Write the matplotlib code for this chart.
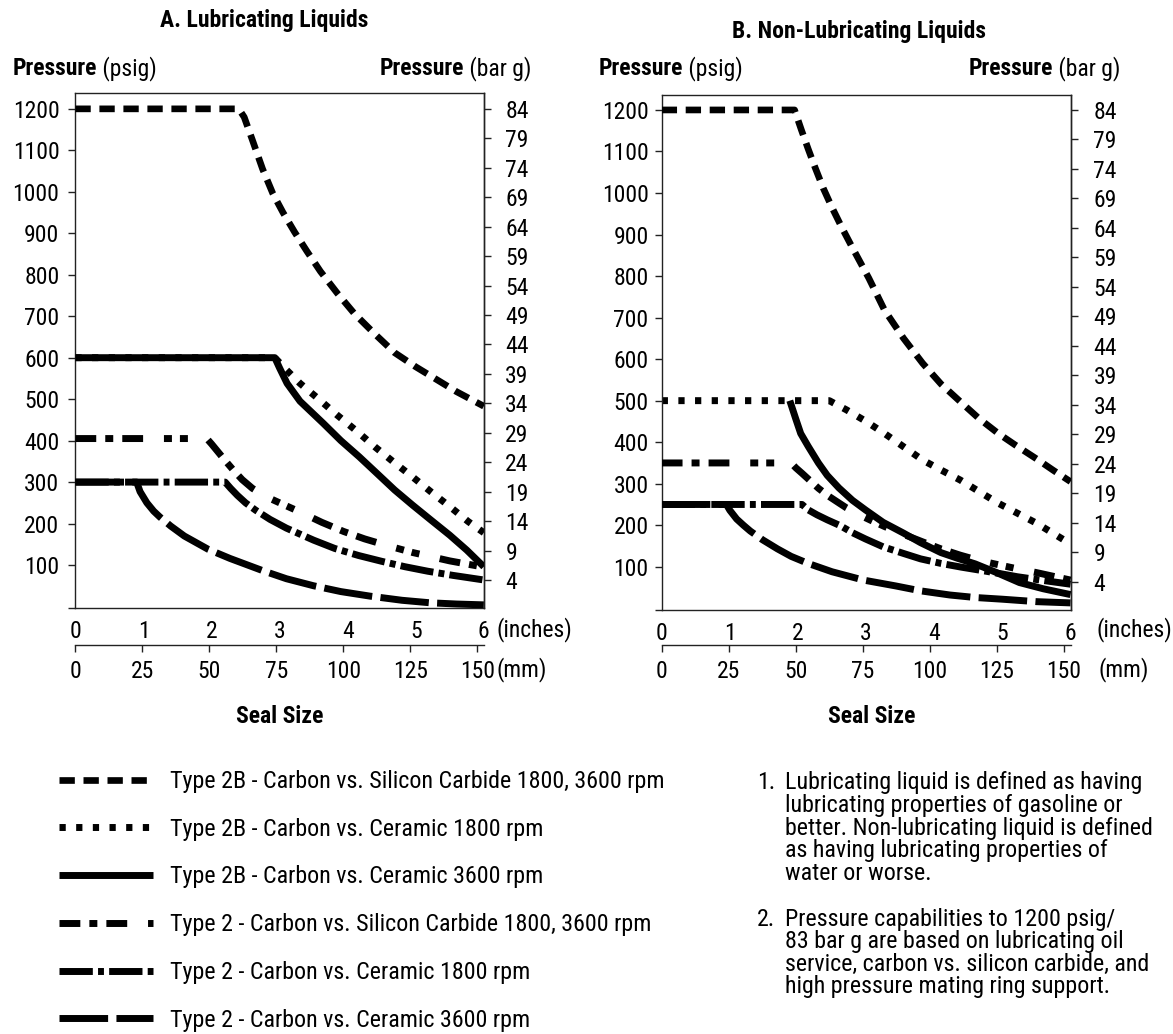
import matplotlib
matplotlib.use("Agg")
import matplotlib.pyplot as plt
from matplotlib import font_manager as fm

# ---------------- data ----------------
inch_ticks = [0, 1, 2, 3, 4, 5, 6]
mm_ticks = [0, 25, 50, 75, 100, 125, 150]
psig_ticks = [100, 200, 300, 400, 500, 600, 700, 800, 900, 1000, 1100, 1200]
bar_ticks = [84, 79, 74, 69, 64, 59, 54, 49, 44, 39, 34, 29, 24, 19, 14, 9, 4]

series_labels = [
    "Type 2B - Carbon vs. Silicon Carbide 1800, 3600 rpm",
    "Type 2B - Carbon vs. Ceramic 1800 rpm",
    "Type 2B - Carbon vs. Ceramic 3600 rpm",
    "Type 2 - Carbon vs. Silicon Carbide 1800, 3600 rpm",
    "Type 2 - Carbon vs. Ceramic 1800 rpm",
    "Type 2 - Carbon vs. Ceramic 3600 rpm",
]

# Panel A - lubricating liquids (x in inches, y in psig)
a_2b_sic_x = [0, 2.4, 2.48, 2.6, 2.75, 2.9, 3.05, 3.22, 3.4, 3.6, 3.85, 4.1, 4.4, 4.69, 5.0, 5.3, 5.6, 6.0]
a_2b_sic_y = [1200, 1200, 1180, 1125, 1055, 996, 950, 903, 857, 808, 755, 706, 657, 612, 578, 548, 518, 483]
a_2b_cer18_x = [0, 2.93, 3.08, 3.3, 3.59, 3.85, 4.14, 4.4, 4.67, 4.95, 5.22, 5.5, 5.77, 6.0]
a_2b_cer18_y = [600, 600, 574, 538, 498, 461, 422, 385, 349, 313, 277, 241, 205, 178]
a_2b_cer36_x = [0, 2.93, 3.0, 3.11, 3.3, 3.64, 3.9, 4.17, 4.45, 4.69, 4.95, 5.22, 5.5, 5.75, 6.0]
a_2b_cer36_y = [600, 600, 575, 538, 495, 442, 400, 361, 318, 281, 245, 209, 172, 136, 96]
a_2_sic_x = [0, 1.93, 2.0, 2.1, 2.2, 2.32, 2.45, 2.6, 2.8, 3.0, 3.3, 3.62, 3.94, 4.25, 4.6, 4.96, 5.5, 6.0]
a_2_sic_y = [405, 405, 392, 372, 352, 329, 306, 285, 265, 250, 228, 203, 181, 163, 146, 130, 110, 95]
a_2_cer18_x = [0, 2.2, 2.28, 2.38, 2.5, 2.65, 2.86, 3.1, 3.5, 3.81, 4.16, 4.5, 4.84, 5.18, 5.55, 6.0]
a_2_cer18_y = [300, 300, 285, 268, 250, 232, 210, 189, 160, 140, 123, 109, 96, 85, 75, 64]
a_2_cer36_x = [0, 0.9, 0.95, 1.05, 1.15, 1.24, 1.4, 1.6, 1.95, 2.27, 2.76, 3.1, 3.5, 3.9, 4.33, 4.8, 5.21, 5.6, 6.0]
a_2_cer36_y = [300, 300, 277, 250, 230, 216, 194, 170, 138, 116, 86, 67, 50, 36, 25, 15, 9, 6, 4]

# Panel B - non-lubricating liquids
b_2b_sic_x = [0, 1.95, 2.05, 2.15, 2.25, 2.37, 2.5, 2.65, 2.8, 3.04, 3.27, 3.55, 3.83, 4.1, 4.38, 4.65, 4.94, 5.2, 5.5, 5.75, 6.0]
b_2b_sic_y = [1200, 1200, 1152, 1106, 1062, 1012, 965, 915, 868, 795, 718, 650, 590, 540, 498, 458, 421, 392, 360, 332, 305]
b_2b_cer18_x = [0, 2.46, 2.55, 2.71, 3.0, 3.27, 3.55, 3.83, 4.1, 4.38, 4.66, 4.94, 5.22, 5.5, 5.75, 6.0]
b_2b_cer18_y = [500, 500, 492, 478, 450, 421, 389, 357, 333, 309, 281, 253, 229, 205, 180, 155]
b_2b_cer36_x = [1.88, 1.92, 1.97, 2.04, 2.15, 2.3, 2.43, 2.6, 2.8, 2.99, 3.25, 3.55, 3.8, 4.1, 4.35, 4.6, 4.9, 5.25, 5.6, 6.0]
b_2b_cer36_y = [500, 480, 455, 421, 390, 350, 320, 290, 260, 237, 207, 181, 158, 134, 120, 107, 87, 62, 47, 33]
b_2_sic_x = [0, 1.9, 1.97, 2.06, 2.18, 2.3, 2.45, 2.57, 2.71, 2.9, 3.08, 3.27, 3.55, 3.83, 4.1, 4.38, 4.66, 4.94, 5.22, 5.5, 5.75, 6.0]
b_2_sic_y = [350, 350, 338, 325, 307, 289, 270, 257, 242, 225, 211, 197, 178, 160, 143, 128, 115, 105, 95, 86, 77, 68]
b_2_cer18_x = [0, 2.06, 2.15, 2.28, 2.43, 2.62, 2.8, 2.99, 3.25, 3.55, 3.8, 4.1, 4.4, 4.66, 4.95, 5.22, 5.6, 6.0]
b_2_cer18_y = [250, 250, 237, 225, 213, 199, 182, 167, 148, 132, 119, 108, 99, 92, 84, 76, 67, 58]
b_2_cer36_x = [0, 0.95, 1.0, 1.1, 1.2, 1.3, 1.48, 1.7, 1.9, 2.15, 2.5, 2.96, 3.43, 3.8, 4.23, 4.6, 4.99, 5.5, 6.0]
b_2_cer36_y = [250, 250, 236, 215, 200, 186, 165, 143, 125, 108, 88, 68, 54, 42, 32, 26, 22, 16, 13]

note1_lines = ["Lubricating liquid is defined as having",
               "lubricating properties of gasoline or",
               "better. Non-lubricating liquid is defined",
               "as having lubricating properties of",
               "water or worse."]
note2_lines = ["Pressure capabilities to 1200 psig/",
               "83 bar g are based on lubricating oil",
               "service, carbon vs. silicon carbide, and",
               "high pressure mating ring support."]

# ---------------- style ----------------
names = {f.name for f in fm.fontManager.ttflist}
FONT = "DejaVu Sans"
for cand in ["Liberation Sans Narrow", "Roboto Condensed", "Liberation Sans"]:
    if cand in names:
        FONT = cand
        break
plt.rcParams["font.family"] = [FONT, "DejaVu Sans"]

LW = 5.0
styles = [
    dict(linestyle=(0, (2.3, 1.3)), linewidth=4.8),
    dict(linestyle=(0, (0.9, 1.5)), linewidth=LW),
    dict(linestyle="-", linewidth=LW),
    dict(linestyle=(0, (3.0, 1.3, 1.15, 1.3, 3.0, 3.0, 1.15, 1.15, 1.15, 3.0)), linewidth=LW),
    dict(linestyle=(0, (4.8, 0.75, 0.85, 0.75)), linewidth=LW),
    dict(linestyle=(0, (7.0, 1.2)), linewidth=LW),
]
zorders = [3, 2, 4, 3, 3, 3]

TICK_FS = 17
TEXT_FS = 17.3
SPINE_C = "#222222"

W, H = 1173, 1034
fig = plt.figure(figsize=(W / 100, H / 100), dpi=100)
renderer = fig.canvas.get_renderer()


def fx(x):
    return x / W


def fy(y):
    return 1 - y / H


PSIG_TOP, BAR_TOP, PSIG_PER_BAR = 1200, 84, 14.2


def p2b(p):
    return BAR_TOP - (PSIG_TOP - p) / PSIG_PER_BAR


def b2p(b):
    return PSIG_TOP - (BAR_TOP - b) * PSIG_PER_BAR


def in2mm(v):
    return v * 25.4


def mm2in(v):
    return v / 25.4


def panel(box, ylim, xs, ys, ypad, rpad):
    l, r, t, b = box
    ax = fig.add_axes([fx(l), fy(b), (r - l) / W, (b - t) / H])
    lines = []
    for x, y, st, z in zip(xs, ys, styles, zorders):
        ln, = ax.plot(x, y, color="black", dash_capstyle="butt",
                      solid_capstyle="butt", solid_joinstyle="round",
                      dash_joinstyle="round", zorder=z, **st)
        lines.append(ln)
    ax.set_xlim(0, 6)
    ax.set_ylim(*ylim)
    ax.set_xticks(inch_ticks)
    ax.set_yticks(psig_ticks)
    ax.set_yticks([ylim[0]], minor=True)
    ax.tick_params(axis="y", which="both", direction="out", length=5, width=1,
                   labelsize=TICK_FS, pad=ypad, color=SPINE_C)
    ax.tick_params(axis="x", length=0, labelsize=TICK_FS, pad=8.5)
    for s in ax.spines.values():
        s.set_linewidth(1.0)
        s.set_color(SPINE_C)
    sec = ax.secondary_yaxis("right", functions=(p2b, b2p))
    sec.set_yticks(bar_ticks)
    sec.tick_params(direction="out", length=5, width=1, labelsize=TICK_FS,
                    pad=rpad, color=SPINE_C)
    sec.spines["right"].set_linewidth(1.0)
    sec.spines["right"].set_color(SPINE_C)
    loc = -(645 - b) / (b - t)
    smm = ax.secondary_xaxis(loc, functions=(in2mm, mm2in))
    smm.set_xticks(mm_ticks)
    smm.tick_params(direction="out", length=5, width=1, labelsize=TICK_FS,
                    pad=5.5, color=SPINE_C)
    for s in smm.spines.values():
        s.set_linewidth(1.0)
        s.set_color(SPINE_C)
    return ax, lines


def mixed(x, y, parts, ha="left", size=TICK_FS):
    if ha == "left":
        cur = x
        for txt, wt in parts:
            t = fig.text(fx(cur), fy(y), txt, fontsize=size, fontweight=wt,
                         ha="left", va="baseline")
            cur = t.get_window_extent(renderer).x1
    else:
        cur = x
        for txt, wt in reversed(parts):
            t = fig.text(fx(cur), fy(y), txt, fontsize=size, fontweight=wt,
                         ha="right", va="baseline")
            cur = t.get_window_extent(renderer).x0


A_box = (75.4, 483.8, 93.3, 608.3)
B_box = (661.7, 1070.5, 95.0, 610.0)

axA, linesA = panel(A_box, (-4.3, 1237.5),
                    [a_2b_sic_x, a_2b_cer18_x, a_2b_cer36_x, a_2_sic_x, a_2_cer18_x, a_2_cer36_x],
                    [a_2b_sic_y, a_2b_cer18_y, a_2b_cer36_y, a_2_sic_y, a_2_cer18_y, a_2_cer36_y],
                    ypad=6.5, rpad=10.5)
axB, linesB = panel(B_box, (-4.1, 1236.0),
                    [b_2b_sic_x, b_2b_cer18_x, b_2b_cer36_x, b_2_sic_x, b_2_cer18_x, b_2_cer36_x],
                    [b_2b_sic_y, b_2b_cer18_y, b_2b_cer36_y, b_2_sic_y, b_2_cer18_y, b_2_cer36_y],
                    ypad=4.5, rpad=11.5)

# titles and axis labels
fig.text(fx(264), fy(26.7), "A. Lubricating Liquids", fontsize=TICK_FS,
         fontweight="bold", ha="center", va="baseline")
fig.text(fx(859), fy(38.3), "B. Non-Lubricating Liquids", fontsize=TICK_FS,
         fontweight="bold", ha="center", va="baseline")
mixed(12.6, 75, [("Pressure", "bold"), (" (psig)", "normal")])
mixed(531, 75, [("Pressure", "bold"), (" (bar g)", "normal")], ha="right")
mixed(599, 75, [("Pressure", "bold"), (" (psig)", "normal")])
mixed(1120, 75, [("Pressure", "bold"), (" (bar g)", "normal")], ha="right")

for xi, xm in [(497, 497), (1097, 1099)]:
    fig.text(fx(xi), fy(636.7), "(inches)", fontsize=TICK_FS, ha="left", va="baseline")
    fig.text(fx(xm), fy(676.6), "(mm)", fontsize=TICK_FS, ha="left", va="baseline")

fig.text(fx(280), fy(723), "Seal Size", fontsize=TICK_FS, fontweight="bold",
         ha="center", va="baseline")
fig.text(fx(872), fy(723), "Seal Size", fontsize=TICK_FS, fontweight="bold",
         ha="center", va="baseline")

# legend
fpx = TEXT_FS * 100 / 72
fig.legend(handles=linesA, labels=series_labels, loc="upper left",
           bbox_to_anchor=(fx(59), fy(770)), frameon=False, fontsize=TEXT_FS,
           handlelength=94 / fpx, handletextpad=17 / fpx, labelspacing=1.03,
           borderpad=0, borderaxespad=0)

# notes
pitch = 22.6
fig.text(fx(757), fy(789.3), "1.", fontsize=TEXT_FS, ha="left", va="baseline")
for i, line in enumerate(note1_lines):
    fig.text(fx(785), fy(789.3 + i * pitch), line, fontsize=TEXT_FS,
             ha="left", va="baseline")
fig.text(fx(757), fy(925.7), "2.", fontsize=TEXT_FS, ha="left", va="baseline")
for i, line in enumerate(note2_lines):
    fig.text(fx(785), fy(925.7 + i * pitch), line, fontsize=TEXT_FS,
             ha="left", va="baseline")

fig.savefig("out.png", dpi=100)
